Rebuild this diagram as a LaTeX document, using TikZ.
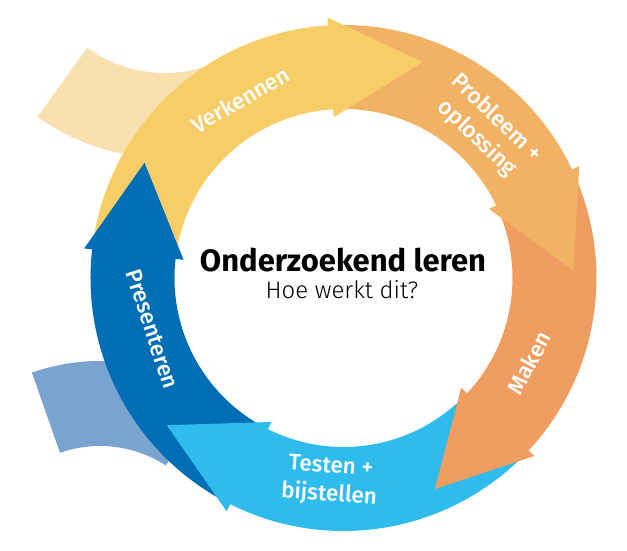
\documentclass[tikz,border=0pt]{standalone}
\usepackage{fontspec}
\setmainfont{Fira Sans}
\newfontfamily\labelfont{Fira Sans Medium}
\newfontfamily\subfont{Fira Sans Light}
\definecolor{cyellow}{HTML}{F7CD67}
\definecolor{clorange}{HTML}{F2B263}
\definecolor{corange}{HTML}{EF9D61}
\definecolor{clblue}{HTML}{2FBCED}
\definecolor{cdblue}{HTML}{006EB5}
\definecolor{paleyellow}{HTML}{F8E1AF}
\definecolor{paleblue}{HTML}{7AA3CF}

\begin{document}
\begin{tikzpicture}[
  x=0.025cm, y=0.025cm,
  stage/.style={text=white, font=\labelfont\fontsize{16}{20}\selectfont, align=center, inner sep=0pt},
  title/.style={font=\bfseries\fontsize{22}{26}\selectfont, anchor=base},
  subtitle/.style={font=\subfont\fontsize{17}{20}\selectfont, anchor=base}
]
  \useasboundingbox (0,0) rectangle (627,551);

  % faded tails behind the ring
  \fill[paleyellow, shift={(165,611)}] (-125.8:218) arc[start angle=-125.8, end angle=-72, radius=218]
    -- (-72:133) arc[start angle=-72, end angle=-125.8, radius=133] -- cycle;
  \fill[paleblue, shift={(100,-16)}] (109.3:206) arc[start angle=109.3, end angle=57, radius=206]
    -- (57:121) arc[start angle=57, end angle=109.3, radius=121] -- cycle;

  \begin{scope}[shift={(343.5,273)}]
    % ring parts (each one runs a bit under the next head)
    \foreach \s/\e/\col in {172/92/cyellow, 92/23.9/clorange, 23.9/-44.5/corange,
                            -44.5/-118.1/clblue, 241.9/172/cdblue}
      \fill[\col] (\s:253) arc[start angle=\s, end angle=\e, radius=253]
        -- (\e:169) arc[start angle=\e, end angle=\s, radius=169] -- cycle;
    % arrow heads
    \foreach \e/\col in {93.5/cyellow, 25.4/clorange, -43/corange, -116.6/clblue, 173.5/cdblue}
      \fill[\col] (\e:261) -- ({\e-23.6}:230) -- (\e:161) -- cycle;

    \node[stage, rotate=30] (verkennen) at (120:206) {Verkennen};
    \node[stage, rotate=-43.7] (probleem) at (46.3:207) {Probleem +\\oplossing};
    \node[stage, rotate=62] (maken) at (-24.6:204) {Maken};
    \node[stage, rotate=-4] (testen) at (-93.8:204) {Testen +\\bĳstellen};
    \node[stage, rotate=-72] (presenteren) at (195:198) {Presenteren};
  \end{scope}

  \node[title] (titel) at (343,279) {Onderzoekend leren};
  \node[subtitle] (vraag) at (342,252) {Hoe werkt dit?};
\end{tikzpicture}
\end{document}
